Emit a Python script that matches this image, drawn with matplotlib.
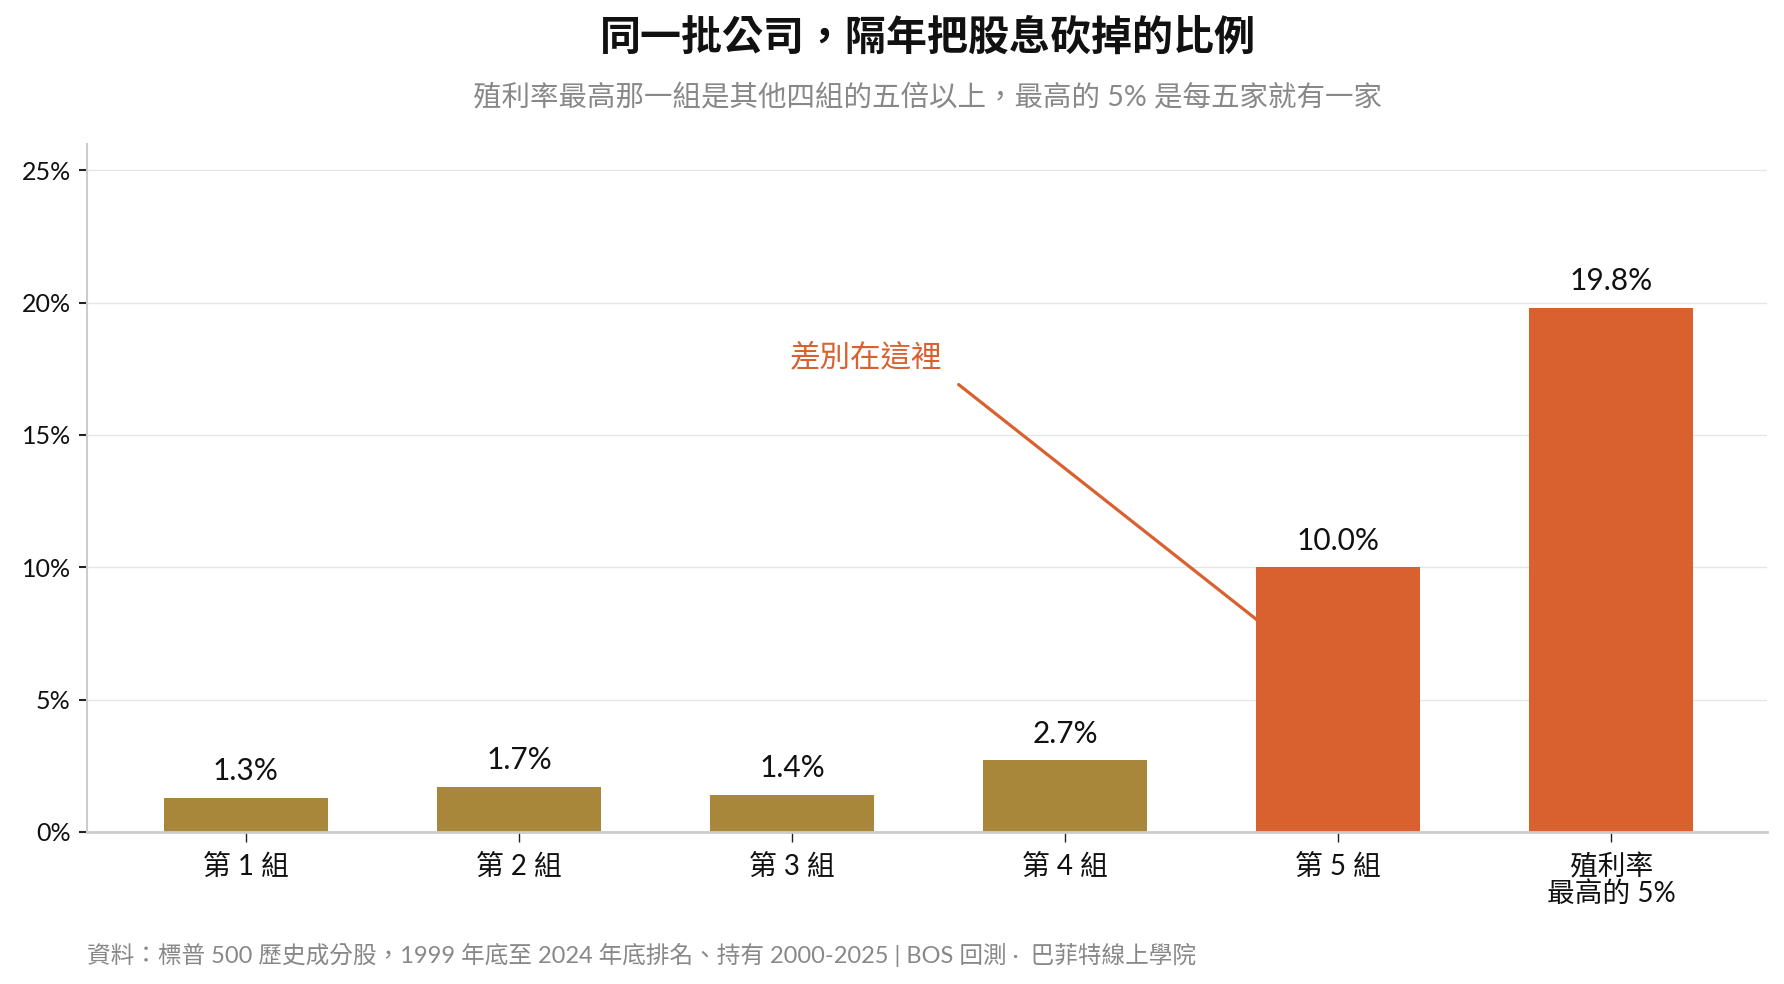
import numpy as np
import matplotlib
matplotlib.use("Agg")
import matplotlib.pyplot as plt

plt.rcParams['font.family'] = ['Lato', 'Noto Sans CJK TC', 'DejaVu Sans']

# data
groups = ['第 1 組', '第 2 組', '第 3 組', '第 4 組', '第 5 組', '殖利率\n最高的 5%']
cut_rate = [1.3, 1.7, 1.4, 2.7, 10.0, 19.8]
highlight = [False, False, False, False, True, True]
y_ticks = [0, 5, 10, 15, 20, 25]

title = '同一批公司，隔年把股息砍掉的比例'
subtitle = '殖利率最高那一組是其他四組的五倍以上，最高的 5% 是每五家就有一家'
note = '差別在這裡'
source = '資料：標普 500 歷史成分股，1999 年底至 2024 年底排名、持有 2000-2025 | BOS 回測 ·  巴菲特線上學院'

gold = '#A8873B'
orange = '#D9602F'

fig = plt.figure(figsize=(17.84, 9.84), dpi=100)
ax = fig.add_axes([0.049, 0.1545, 0.9415, 0.6995])

x = np.arange(len(groups))
colors = [orange if h else gold for h in highlight]
bars = ax.bar(x, cut_rate, width=0.6, color=colors, zorder=3)

for xi, v in zip(x, cut_rate):
    ax.annotate(f'{v:.1f}%', (xi, v), xytext=(0, 9), textcoords='offset points',
                ha='center', va='bottom', fontsize=21.5, color='#111111')

ax.set_xlim(-0.58, 5.57)
ax.set_ylim(0, 26)
ax.set_yticks(y_ticks)
ax.set_yticklabels([f'{t}%' for t in y_ticks], fontsize=18, color='#111111')
ax.set_xticks(x)
ax.set_xticklabels(groups, fontsize=20, color='#111111', linespacing=1.0)
ax.tick_params(axis='y', length=6, width=1.5, color='#222222', pad=6)
ax.tick_params(axis='x', length=7, width=1, color='#222222', pad=9)

ax.grid(axis='y', color='#e6e6e6', linewidth=1, zorder=0)
for s in ['top', 'right']:
    ax.spines[s].set_visible(False)
ax.spines['left'].set_color('#cccccc')
ax.spines['left'].set_linewidth(1.5)
ax.spines['bottom'].set_color('#cccccc')
ax.spines['bottom'].set_linewidth(2)
ax.spines['bottom'].set_zorder(4)

# annotation line
ax.plot([2.61, 3.71], [16.9, 7.95], color=orange, linewidth=2.3, solid_capstyle='round', zorder=4)
ax.text(2.27, 17.95, note, ha='center', va='center', fontsize=22, color=orange)

fig.text(0.52, 0.962, title, ha='center', va='center', fontsize=29.5, fontweight='bold', color='#111111')
fig.text(0.52, 0.901, subtitle, ha='center', va='center', fontsize=20.5, color='#888888')
fig.text(0.049, 0.030, source, ha='left', va='center', fontsize=17, color='#888888')

fig.savefig('out.png', dpi=100, facecolor='white')
